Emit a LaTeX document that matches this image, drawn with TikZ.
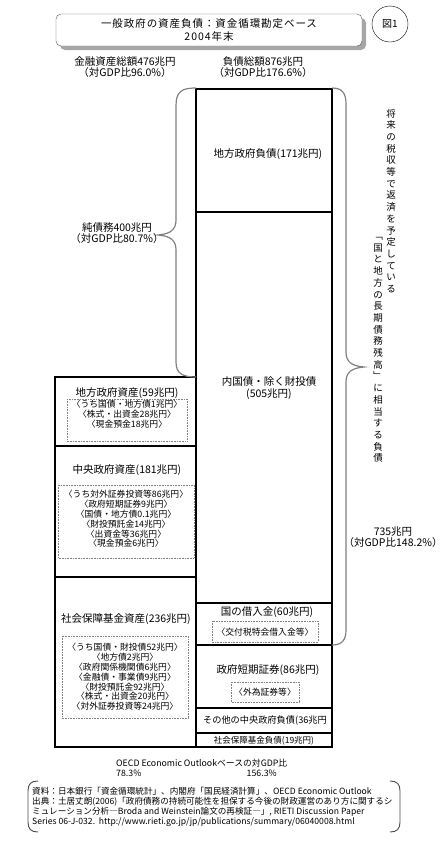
\documentclass[tikz,border=0pt]{standalone}
\usepackage{fontspec}
\setmainfont{Noto Sans CJK JP}
\usepackage{tikz}
\usetikzlibrary{shadows}

\begin{document}
\begin{tikzpicture}[
    x=1pt, y=-1pt,
    colframe/.style={line width=2.4pt},
    divline/.style={line width=1.3pt},
    mainlabel/.style={inner sep=0pt, font=\fontsize{10.5}{12}\selectfont},
    smalllabel/.style={inner sep=0pt, font=\fontsize{9.2}{11}\selectfont},
    sublines/.style={inner sep=0pt, align=center, font=\fontsize{8.8}{9.8}\selectfont},
    dotbox/.style={draw=gray, densely dotted, line width=0.6pt},
    bracestroke/.style={draw=black!50, line width=1.2pt},
    notebracket/.style={draw=black!70, line width=0.9pt},
    headtext/.style={inner sep=0pt, align=center, font=\fontsize{10.5}{11.5}\selectfont},
    vertcol/.style={inner sep=0pt, align=center, font=\fontsize{9.5}{11.7}\selectfont},
    smallnote/.style={inner sep=0pt, font=\fontsize{8.8}{9}\selectfont}
]
\useasboundingbox (0,0) rectangle (443,841);

% Title box and figure number
\node[draw=gray!70!black, fill=white, rounded corners=5pt, minimum width=306pt, minimum height=32pt,
      drop shadow={shadow xshift=4pt, shadow yshift=-4pt, fill=gray!70, opacity=1},
      align=center, font=\fontsize{10.5}{13}\selectfont\addfontfeatures{LetterSpace=9}] (title) at (209,30) {一般政府の資産負債：資金循環勘定ベース\\2004年末};
\node[draw, circle, minimum size=36pt, inner sep=0pt, font=\fontsize{10}{12}\selectfont] (fignum) at (390,24) {図1};

% Totals above the columns
\node[headtext] (assettotal) at (125,67) {金融資産総額476兆円\\（対GDP比96.0\%）};
\node[headtext] (debttotal) at (263,67) {負債総額876兆円\\（対GDP比176.6\%）};

% Liabilities column
\draw[divline] (196,212) -- (332,212);
\draw[divline] (196,603) -- (332,603);
\draw[divline] (196,645) -- (332,645);
\draw[divline] (196,708) -- (332,708);
\draw[divline] (196,733) -- (332,733);
\draw[colframe] (196,89) rectangle (332,747);

\node[mainlabel] (localdebt) at (268,154) {地方政府負債(171兆円)};
\node[mainlabel, align=center] (jgb) at (269,388) {内国債・除く財投債\\(505兆円)};
\node[mainlabel] (borrow) at (267,612) {国の借入金(60兆円)};
\draw[dotbox] (212,621) rectangle (318,642);
\node[sublines] (borrowsub) at (265,632) {〈交付税特会借入金等〉};
\node[mainlabel] (fb) at (268,670) {政府短期証券(86兆円)};
\draw[dotbox] (231,682) rectangle (299,702);
\node[sublines] (fbsub) at (265,692) {〈外為証券等〉};
\node[smalllabel] (otherdebt) at (265,721) {その他の中央政府負債(36兆円};
\node[inner sep=0pt, font=\fontsize{8.5}{10}\selectfont] (ssdebt) at (264,741) {社会保障基金負債(19兆円)};

% Assets column
\draw[divline] (55,446) -- (196,446);
\draw[divline] (55,577) -- (196,577);
\draw[colframe] (55,377) rectangle (196,747);

\node[mainlabel] (localasset) at (127,393) {地方政府資産(59兆円)};
\draw[dotbox] (67,399) rectangle (187,441);
\node[sublines] (localsub) at (127,414) {〈うち国債・地方債1兆円〉\\〈株式・出資金28兆円〉\\〈現金預金18兆円〉};
\node[mainlabel] (centralasset) at (127,470) {中央政府資産(181兆円)};
\draw[dotbox] (58,485) rectangle (194,558);
\node[sublines] (centralsub) at (126,519) {〈うち対外証券投資等86兆円〉\\〈政府短期証券9兆円〉\\〈国債・地方債0.1兆円〉\\〈財投預託金14兆円〉\\〈出資金等36兆円〉\\〈現金預金6兆円〉};
\node[mainlabel] (ssasset) at (126,619) {社会保障基金資産(236兆円)};
\draw[dotbox] (62,636) rectangle (188,718);
\node[sublines] (sssub) at (125,677) {〈うち国債・財投債52兆円〉\\〈地方債2兆円〉\\〈政府関係機関債6兆円〉\\〈金融債・事業債9兆円〉\\〈財投預託金92兆円〉\\〈株式・出資金20兆円〉\\〈対外証券投資等24兆円〉};

% Net debt brace on the left
\draw[bracestroke] (196,88) .. controls (181,88) and (176,92) .. (176,106) -- (176,220)
    .. controls (176,230) and (170,234) .. (158,235) .. controls (170,236) and (176,240) .. (176,250)
    -- (176,362) .. controls (176,373) and (182,377) .. (196,377);
\node[headtext] (netdebt) at (117,233) {純債務400兆円\\（対GDP比80.7\%）};

% Long-term debt brace on the right
\draw[bracestroke] (332,88) .. controls (342,88) and (346,93) .. (346,104) -- (346,352)
    .. controls (346,362) and (352,366) .. (364,367) .. controls (352,368) and (346,372) .. (346,382)
    -- (346,630) .. controls (346,640) and (342,645) .. (332,645);
\node[vertcol] (vline1) at (391,201) {将\\来\\の\\税\\収\\等\\で\\返\\済\\を\\予\\定\\し\\て\\い\\る};
\node[vertcol] (vline2) at (378,350) {﹁\\国\\と\\地\\方\\の\\長\\期\\債\\務\\残\\高\\﹂\\に\\相\\当\\す\\る\\負\\債};
\node[headtext] (longdebt) at (393,537) {735兆円\\（対GDP比148.2\%）};

% OECD base ratios
\node[smallnote, anchor=west] (oecd) at (116,763) {OECD Economic Outlookベースの対GDP比};
\node[smallnote, anchor=west] (oecdasset) at (116,773) {78.3\%};
\node[smallnote, anchor=east] (oecddebt) at (277,773) {156.3\%};

% Source note
\draw[notebracket] (38,781) .. controls (31,781) and (28,784) .. (28,791) -- (28,822) .. controls (28,829) and (31,832) .. (38,832);
\draw[notebracket] (390,781) .. controls (397,781) and (400,784) .. (400,791) -- (400,822) .. controls (400,829) and (397,832) .. (390,832);
\node[inner sep=0pt, anchor=west, align=left, font=\fontsize{8.6}{10}\selectfont] (source) at (32,807) {資料：日本銀行「資金循環統計」、内閣府「国民経済計算」、OECD Economic Outlook\\出典：土居丈朗(2006)「政府債務の持続可能性を担保する今後の財政運営のあり方に関するシ\\ミュレーション分析―Broda and Weinstein論文の再検証―」, RIETI Discussion Paper\\Series 06-J-032.\ \ http://www.rieti.go.jp/jp/publications/summary/06040008.html};

\end{tikzpicture}
\end{document}
